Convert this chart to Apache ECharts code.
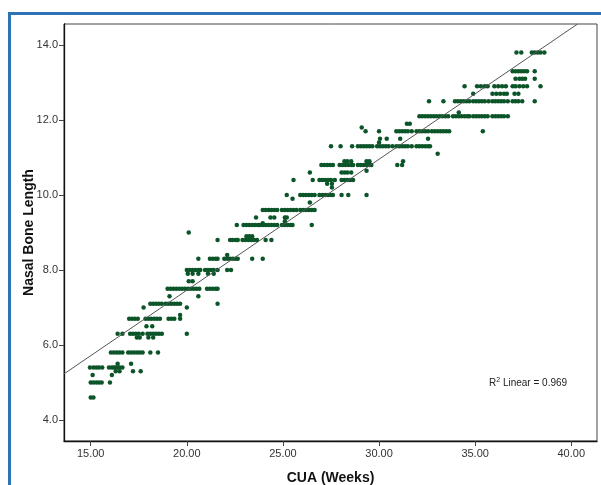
<!DOCTYPE html>
<html>
<head>
<meta charset="utf-8">
<script src="https://cdn.jsdelivr.net/npm/echarts@6/dist/echarts.min.js"></script>
<style>
html,body{margin:0;padding:0;background:#fff;}
#wrap{position:relative;width:601px;height:485px;overflow:hidden;}
#frame{position:absolute;left:8px;top:12px;width:600px;height:500px;border-left:3px solid #2f73b7;border-top:3px solid #2f73b7;border-right:3px solid #2f73b7;box-sizing:border-box;}
#chart{position:absolute;left:0;top:0;width:601px;height:485px;}
</style>
</head>
<body>
<div id="wrap"><div id="frame"></div><div id="chart"></div></div>
<script>
// Nasal bone length rows (y values) and CUA weeks observed on each row
const rowValues = [4.6, 5.0, 5.2, 5.3, 5.4, 5.5, 5.8, 6.2, 6.3, 6.5, 6.7, 6.8, 7.0, 7.1, 7.3, 7.5, 7.7, 7.9, 8.0, 8.3, 8.4, 8.8, 8.9, 9.0, 9.2, 9.25, 9.3, 9.4, 9.6, 9.8, 9.9, 10.0, 10.2, 10.3, 10.4, 10.6, 10.65, 10.8, 10.9, 11.1, 11.3, 11.4, 11.5, 11.7, 11.8, 11.9, 12.1, 12.2, 12.5, 12.7, 12.9, 13.1, 13.3, 13.8];
const rowWeeks = [
  [15.0, 15.14],
  [15.0, 15.14, 15.29, 15.43, 15.57, 16.0],
  [15.1, 16.1],
  [16.3, 16.5, 17.2, 17.6],
  [14.96, 15.14, 15.29, 15.43, 15.6, 15.95, 16.1, 16.2, 16.3, 16.4, 16.5, 16.65],
  [16.4, 17.1],
  [16.05, 16.2, 16.35, 16.5, 16.65, 16.95, 17.1, 17.25, 17.4, 17.55, 17.7, 18.1, 18.5],
  [17.4, 17.55, 18.0, 18.25],
  [16.4, 16.65, 17.05, 17.2, 17.35, 17.5, 17.7, 17.95, 18.1, 18.25, 18.4, 18.55, 18.7, 20.0],
  [17.9, 18.2],
  [17.0, 17.15, 17.3, 17.45, 17.85, 18.0, 18.15, 18.3, 18.45, 18.6, 19.05, 19.2, 19.35, 19.65],
  [19.65],
  [17.75, 20.0],
  [18.1, 18.25, 18.4, 18.55, 18.7, 18.9, 19.05, 19.2, 19.35, 19.5, 19.65, 21.6],
  [19.1, 20.6],
  [19.0, 19.15, 19.3, 19.45, 19.6, 19.75, 19.9, 20.05, 20.2, 20.35, 20.5, 20.65, 21.05, 21.2, 21.35, 21.5, 21.6],
  [20.1, 20.3],
  [20.05, 20.3, 20.6, 21.1, 21.4],
  [20.0, 20.15, 20.3, 20.45, 20.6, 20.7, 20.95, 21.1, 21.25, 21.4, 21.6, 22.1, 22.3],
  [20.6, 21.2, 21.35, 21.5, 21.6, 21.95, 22.1, 22.25, 22.4, 22.55, 22.65, 23.4, 23.95],
  [22.1],
  [21.6, 22.25, 22.4, 22.55, 22.65, 22.9, 23.05, 23.2, 23.35, 23.5, 23.65, 24.1, 24.4],
  [23.1, 23.25, 23.4],
  [20.1],
  [22.6, 22.95, 23.1, 23.25, 23.4, 23.55, 23.7, 23.8, 23.95, 24.1, 24.25, 24.4, 24.55, 24.7, 24.95, 25.1, 25.25, 25.4, 25.5, 26.5],
  [23.95],
  [25.1],
  [23.6, 24.35, 24.55, 25.1, 25.2],
  [23.95, 24.1, 24.25, 24.4, 24.55, 24.7, 24.95, 25.1, 25.25, 25.4, 25.55, 25.7, 25.9, 26.05, 26.2, 26.35, 26.5, 26.65],
  [26.4],
  [25.5],
  [25.2, 25.9, 26.05, 26.2, 26.35, 26.5, 26.65, 26.9, 27.05, 27.2, 27.35, 27.5, 27.6, 28.05, 28.4, 29.35],
  [27.55],
  [27.3, 27.55],
  [25.55, 26.55, 26.9, 27.05, 27.2, 27.35, 27.5, 27.7, 28.05, 28.2, 28.35, 28.5, 28.65],
  [26.4, 28.05, 28.2, 28.35, 28.55],
  [29.35],
  [27.0, 27.15, 27.3, 27.45, 27.6, 27.95, 28.1, 28.25, 28.4, 28.55, 28.65, 28.9, 29.05, 29.2, 29.35, 29.5, 29.6, 30.95, 31.2],
  [28.2, 28.35, 28.55, 29.35, 29.5, 31.25],
  [33.05],
  [27.5, 28.0, 28.6, 28.9, 29.05, 29.2, 29.35, 29.5, 29.65, 29.9, 30.05, 30.2, 30.35, 30.5, 30.7, 30.9, 31.05, 31.2, 31.35, 31.5, 31.7, 31.95, 32.1, 32.25, 32.4, 32.55, 32.65],
  [30.0],
  [30.05, 30.4, 31.1, 32.55],
  [29.3, 30.0, 30.9, 31.05, 31.2, 31.35, 31.5, 31.7, 31.95, 32.1, 32.25, 32.4, 32.55, 32.75, 32.9, 33.05, 33.2, 33.35, 33.5, 33.65, 35.4],
  [29.1],
  [31.45, 31.6],
  [32.1, 32.25, 32.4, 32.55, 32.7, 32.85, 33.0, 33.15, 33.3, 33.45, 33.6, 33.85, 34.0, 34.15, 34.3, 34.45, 34.6, 34.7, 34.9, 35.05, 35.2, 35.35, 35.5, 35.65, 35.9, 36.05, 36.2, 36.35, 36.5, 36.7],
  [34.15],
  [32.6, 33.35, 33.95, 34.1, 34.25, 34.4, 34.55, 34.7, 34.9, 35.05, 35.2, 35.35, 35.5, 35.7, 35.9, 36.05, 36.2, 36.35, 36.5, 36.7, 36.95, 37.1, 37.25, 37.45, 38.1],
  [34.9, 35.9, 36.1, 36.3, 36.5, 36.65, 37.05, 37.25],
  [34.45, 35.1, 35.3, 35.5, 35.65, 36.0, 36.2, 36.4, 36.6, 36.95, 37.1, 37.3, 37.5, 37.7, 38.4],
  [37.1, 37.3, 37.45, 37.6, 38.1],
  [36.95, 37.1, 37.25, 37.4, 37.55, 37.7, 38.1],
  [37.15, 37.4, 37.95, 38.1, 38.25, 38.4, 38.6]
];
// Fit line end points (linear regression, R² = 0.969)
const fitWeeks = [13.61, 40.33];
const fitLength = [5.23, 14.56];
const xTicks = [15, 20, 25, 30, 35, 40];
const yTicks = [4, 6, 8, 10, 12, 14];
const r2Label = '0.969';

const points = [];
rowValues.forEach((v, i) => rowWeeks[i].forEach(w => points.push([w, v])));
const fitData = fitWeeks.map((w, i) => [w, fitLength[i]]);

const chart = echarts.init(document.getElementById('chart'), null, {renderer: 'canvas'});
const font = 'Liberation Sans, Arial, sans-serif';
chart.setOption({
  animation: false,
  backgroundColor: 'transparent',
  grid: {left: 64, top: 24, right: 4, bottom: 44, containLabel: false, outerBoundsMode: 'none', show: true, borderColor: '#444', borderWidth: 1, backgroundColor: '#fff'},
  xAxis: {
    type: 'value', min: 13.61, max: 41.34,
    name: 'CUA (Weeks)', nameLocation: 'middle', nameGap: 30,
    nameTextStyle: {fontFamily: font, fontWeight: 'bold', fontSize: 14, color: '#111'},
    axisLine: {show: true, onZero: false, lineStyle: {color: '#111', width: 1.3}},
    axisTick: {show: true, length: 5, customValues: xTicks, lineStyle: {color: '#444'}},
    axisLabel: {customValues: xTicks, formatter: v => v.toFixed(2), fontFamily: font, fontSize: 11, color: '#333', margin: 7},
    splitLine: {show: false}
  },
  yAxis: {
    type: 'value', min: 3.44, max: 14.56,
    name: 'Nasal Bone Length', nameLocation: 'middle', nameGap: 28, nameMoveOverlap: false,
    nameTextStyle: {fontFamily: font, fontWeight: 'bold', fontSize: 14, color: '#111'},
    axisLine: {show: true, onZero: false, lineStyle: {color: '#111', width: 1.3}},
    axisTick: {show: true, length: 5, customValues: yTicks, lineStyle: {color: '#444'}},
    axisLabel: {customValues: yTicks, formatter: v => v.toFixed(1), fontFamily: font, fontSize: 11, color: '#333', margin: 6},
    splitLine: {show: false}
  },
  series: [
    {type: 'line', data: fitData, symbol: 'none', lineStyle: {color: '#555', width: 1}, silent: true, clip: true, z: 3},
    {type: 'scatter', data: points, symbol: 'circle', symbolSize: 4.5, itemStyle: {color: '#0c5529', opacity: 1}, z: 2}
  ],
  graphic: [{
    type: 'text', left: 489, top: 377,
    style: {
      text: '{t|R}{s|2}{t| Linear = ' + r2Label + '}',
      rich: {t: {fontFamily: font, fontSize: 10, fill: '#222'}, s: {fontFamily: font, fontSize: 7, fill: '#222', verticalAlign: 'top', padding: [0, 0, 5, 0]}}
    }
  }]
});
</script>
</body>
</html>
